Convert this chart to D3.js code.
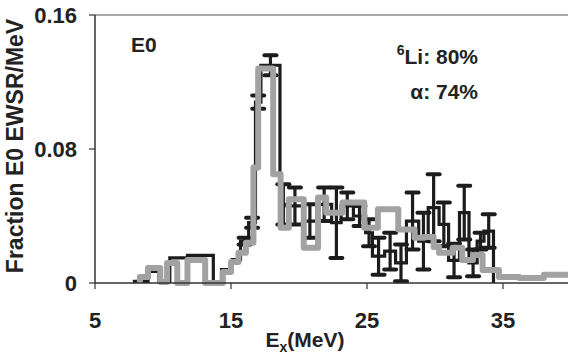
<!DOCTYPE html>
<html lang="en">
<head>
  <meta charset="UTF-8">
  <title>E0 strength distribution</title>
  <script src="https://d3js.org/d3.v7.min.js"></script>
  <style>
    body { margin: 0; background: #fff; }
    svg { display: block; }
    text { font-family: "Liberation Sans", Arial, sans-serif; font-weight: bold; fill: #222; }
  </style>
</head>
<body>
  <div id="chart"></div>
  <script>
    // axis ticks
    const xTicks = [5, 15, 25, 35];
    const yTicks = [0, 0.08, 0.16];

    // 6Li data: histogram bin edges (MeV), values and errors
    const blackEdges = [7.9, 8.9, 9.7, 10.5, 11.8, 13.7, 14.3, 15.1, 15.7, 16.3, 16.8, 17.2, 18.6, 19.1, 20.3, 21.3,
      22.4, 23.1, 24.0, 24.9, 25.4, 26.3, 27.1, 27.9, 28.8, 29.5, 30.3, 31.0, 31.8, 32.5, 33.1, 33.6, 34.3];
    const blackVals = [0.001, 0.007, 0.001, 0.015, 0.0165, 0.0, 0.008, 0.014, 0.025, 0.036, 0.108, 0.130, 0.047, 0.046,
      0.037, 0.047, 0.036, 0.046, 0.040, 0.030, 0.016, 0.019, 0.012, 0.037, 0.025, 0.045, 0.035, 0.0135, 0.042, 0.012,
      0.025, 0.031];
    const blackErr = [0, 0, 0, 0, 0, 0, 0, 0, 0.002, 0.003, 0.004, 0.006, 0.012, 0.011, 0.010, 0.010, 0.021, 0.008,
      0.006, 0.008, 0.011, 0.011, 0.011, 0.017, 0.017, 0.020, 0.013, 0.010, 0.016, 0.008, 0.005, 0.010];

    // alpha data (grey histogram)
    const grayEdges = [8.3, 8.9, 9.8, 10.3, 11.05, 11.8, 13.1, 14.4, 15.0, 15.55, 16.1, 16.65, 17.0, 18.1, 18.65, 19.25,
      20.35, 21.4, 22.0, 23.2, 24.8, 25.8, 27.3, 28.5, 29.2, 29.9, 30.3, 31.3, 32.0, 32.8, 33.5, 34.7, 36.2, 38.0, 40.0];
    const grayVals = [0.0036, 0.009, 0.0006, 0.012, 0.0, 0.0137, 0.0, 0.0066, 0.0125, 0.018, 0.024, 0.069, 0.128, 0.065,
      0.033, 0.05, 0.021, 0.051, 0.042, 0.048, 0.033, 0.044, 0.032, 0.027, 0.0275, 0.0215, 0.018, 0.021, 0.0137, 0.0167,
      0.0078, 0.0036, 0.003, 0.005];

    const width = 568;
    const height = 359;
    const margin = { top: 15, left: 95, bottom: 76 };

    const x = d3.scaleLinear().domain([5, 40]).range([margin.left, margin.left + 35 * 13.6]);
    const y = d3.scaleLinear().domain([0, 0.16]).range([height - margin.bottom, margin.top]);

    const svg = d3.select("#chart").append("svg")
      .attr("width", width)
      .attr("height", height);

    // turn edges + values into step points
    function stepPoints(edges, vals) {
      const pts = [[edges[0], 0]];
      vals.forEach((v, i) => {
        pts.push([edges[i], v]);
        pts.push([edges[i + 1], v]);
      });
      pts.push([edges[edges.length - 1], 0]);
      return pts;
    }

    const line = d3.line().x(d => x(d[0])).y(d => y(d[1]));

    // top frame line
    svg.append("line")
      .attr("x1", x(5)).attr("x2", width)
      .attr("y1", y(0.16)).attr("y2", y(0.16))
      .attr("stroke", "#a8a8a8").attr("stroke-width", 2);

    // black histogram
    svg.append("path")
      .attr("d", line(stepPoints(blackEdges, blackVals)))
      .attr("fill", "none")
      .attr("stroke", "#1c1c1c")
      .attr("stroke-width", 3.2);

    // error bars
    const bars = blackVals.map((v, i) => ({ e: (blackEdges[i] + blackEdges[i + 1]) / 2, v: v, err: blackErr[i] }))
      .filter(d => d.err > 0);

    const eb = svg.append("g").attr("stroke", "#1c1c1c").attr("stroke-linecap", "round");
    eb.selectAll(".stem").data(bars).enter().append("line")
      .attr("x1", d => x(d.e)).attr("x2", d => x(d.e))
      .attr("y1", d => y(d.v + d.err)).attr("y2", d => y(Math.max(0, d.v - d.err)))
      .attr("stroke-width", 3.2);
    eb.selectAll(".capT").data(bars).enter().append("line")
      .attr("x1", d => x(d.e) - 6).attr("x2", d => x(d.e) + 6)
      .attr("y1", d => y(d.v + d.err)).attr("y2", d => y(d.v + d.err))
      .attr("stroke-width", 4);
    eb.selectAll(".capB").data(bars).enter().append("line")
      .attr("x1", d => x(d.e) - 6).attr("x2", d => x(d.e) + 6)
      .attr("y1", d => y(Math.max(0, d.v - d.err))).attr("y2", d => y(Math.max(0, d.v - d.err)))
      .attr("stroke-width", 4);

    // grey histogram
    svg.append("path")
      .attr("d", line(stepPoints(grayEdges, grayVals)))
      .attr("fill", "none")
      .attr("stroke", "#a2a2a2")
      .attr("stroke-width", 6)
      .attr("stroke-linejoin", "round");

    // axes
    svg.append("line")
      .attr("x1", x(5)).attr("x2", x(5))
      .attr("y1", y(0)).attr("y2", y(0.16))
      .attr("stroke", "#333").attr("stroke-width", 1.5);
    svg.append("line")
      .attr("x1", x(5)).attr("x2", width)
      .attr("y1", y(0)).attr("y2", y(0))
      .attr("stroke", "#333").attr("stroke-width", 1.5);

    svg.selectAll(".ytick").data(yTicks).enter().append("line")
      .attr("x1", x(5) - 6).attr("x2", x(5))
      .attr("y1", d => y(d)).attr("y2", d => y(d))
      .attr("stroke", "#333").attr("stroke-width", 1.2);
    svg.selectAll(".ylab").data(yTicks).enter().append("text")
      .attr("x", 77).attr("y", d => y(d) + 8)
      .attr("text-anchor", "end")
      .style("font-size", "22px")
      .text(d => d === 0 ? "0" : d.toFixed(2));

    svg.selectAll(".xtick").data(xTicks).enter().append("line")
      .attr("x1", d => x(d)).attr("x2", d => x(d))
      .attr("y1", y(0)).attr("y2", y(0) + 6)
      .attr("stroke", "#333").attr("stroke-width", 1.2);
    svg.selectAll(".xlab").data(xTicks).enter().append("text")
      .attr("x", d => x(d)).attr("y", 328)
      .attr("text-anchor", "middle")
      .style("font-size", "22px")
      .text(d => d);

    // axis titles
    const xt = svg.append("text")
      .attr("x", 305).attr("y", 347)
      .attr("text-anchor", "middle")
      .style("font-size", "21px");
    xt.append("tspan").text("E");
    xt.append("tspan").attr("dy", 5).style("font-size", "14px").text("x");
    xt.append("tspan").attr("dy", -5).text("(MeV)");

    svg.append("text")
      .attr("transform", "translate(23,146) rotate(-90)")
      .attr("text-anchor", "middle")
      .style("font-size", "23px")
      .text("Fraction E0 EWSR/MeV");

    // annotations
    svg.append("text").attr("x", 131).attr("y", 52).style("font-size", "21px").text("E0");

    const li = svg.append("text").attr("x", 478).attr("y", 64).attr("text-anchor", "end").style("font-size", "21px");
    li.append("tspan").attr("dy", -9).style("font-size", "14px").text("6");
    li.append("tspan").attr("dy", 9).text("Li: 80%");

    svg.append("text").attr("x", 478).attr("y", 99).attr("text-anchor", "end").style("font-size", "21px")
      .text("\u03b1: 74%");
  </script>
</body>
</html>
